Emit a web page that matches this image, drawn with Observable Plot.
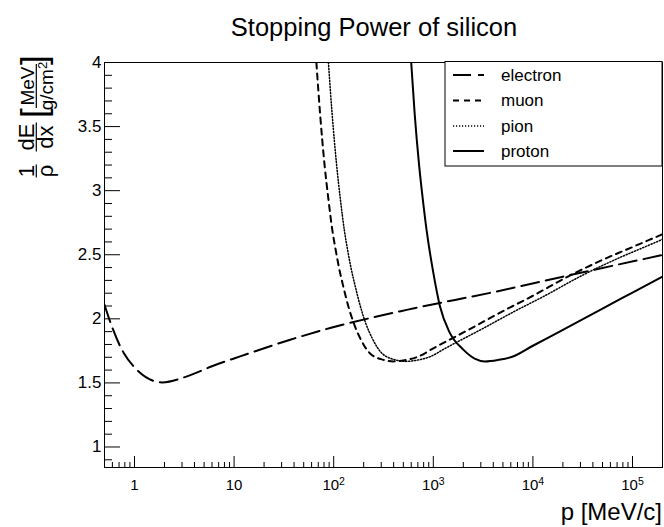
<!DOCTYPE html>
<html><head><meta charset="utf-8">
<script src="https://cdn.jsdelivr.net/npm/d3@7"></script>
<script src="https://cdn.jsdelivr.net/npm/@observablehq/plot@0.6"></script>
<style>
body{margin:0;background:#fff;}
svg{font-family:"Liberation Sans",Arial,sans-serif;}
</style>
</head><body><div id="chart"></div>
<script>
// ---- data (p in MeV/c, stopping power in MeV cm^2/g)
const electronP = [0.5, 0.6, 0.78, 0.98, 1.3, 1.9, 3.37, 6, 11.5, 36.6, 92, 540, 4300, 20000, 200000];
const electronV = [2.11, 1.93, 1.733, 1.629, 1.545, 1.504, 1.551, 1.63, 1.707, 1.837, 1.928, 2.07, 2.213, 2.329, 2.498];

const muonP = [67, 73, 81, 88, 97, 104, 113, 125, 140, 160, 184, 232, 315, 397, 500, 710, 1000, 2250, 5000, 10000, 22500, 50000, 100000, 200000];
const muonV = [4.0, 3.6, 3.2, 2.95, 2.69, 2.55, 2.40, 2.25, 2.10, 1.96, 1.85, 1.73, 1.68, 1.668, 1.675, 1.706, 1.77, 1.914, 2.06, 2.18, 2.33, 2.46, 2.56, 2.66];

const pionP = [88.5, 96.4, 107, 116, 128, 137, 149, 165, 185, 211, 243, 306, 416, 524, 660, 938, 1321, 2970, 6600, 13200, 29700, 66000, 132000, 200000];
const pionV = [4.0, 3.6, 3.2, 2.95, 2.69, 2.55, 2.40, 2.25, 2.10, 1.96, 1.85, 1.73, 1.68, 1.668, 1.675, 1.706, 1.77, 1.914, 2.06, 2.18, 2.33, 2.46, 2.56, 2.62];

const protonP = [600, 650, 720, 780, 857, 1000, 1164, 1466, 2000, 2600, 3300, 4500, 6300, 10000, 20000, 50000, 100000, 200000];
const protonV = [4.0, 3.6, 3.2, 2.95, 2.69, 2.36, 2.10, 1.89, 1.76, 1.69, 1.668, 1.68, 1.706, 1.79, 1.914, 2.08, 2.205, 2.33];

const particles = ["electron", "muon", "pion", "proton"];
const xMajorTicks = [1, 10, 100, 1000, 10000, 100000];
const xTickLabels = ["1", "10", "10^2", "10^3", "10^4", "10^5"];
const xMinorTicks = [0.6,0.7,0.8,0.9, 2,3,4,5,6,7,8,9, 20,30,40,50,60,70,80,90,
  200,300,400,500,600,700,800,900, 2000,3000,4000,5000,6000,7000,8000,9000,
  20000,30000,40000,50000,60000,70000,80000,90000];
const yMajorTicks = [1, 1.5, 2, 2.5, 3, 3.5, 4];
const yMinorTicks = [0.9, 1.1, 1.2, 1.3, 1.4, 1.6, 1.7, 1.8, 1.9, 2.1, 2.2, 2.3, 2.4, 2.6, 2.7, 2.8, 2.9,
  3.1, 3.2, 3.3, 3.4, 3.6, 3.7, 3.8, 3.9];

const title = "Stopping Power of silicon";
const xTitle = "p [MeV/c]";

// ---- build tidy table
const series = {electron: [electronP, electronV], muon: [muonP, muonV], pion: [pionP, pionV], proton: [protonP, protonV]};
const rows = particles.flatMap(name => series[name][0].map((p, i) => ({name, p, v: series[name][1][i]})));
const styles = {
  electron: {dash: "18,7", width: 2},
  muon: {dash: "6,5", width: 2},
  pion: {dash: "1.2,1.8", width: 1.5},
  proton: {dash: null, width: 2}
};

const W = 664, H = 527;
const plot = Plot.plot({
  width: W, height: H,
  marginLeft: 104, marginRight: 2, marginTop: 62, marginBottom: 60,
  style: {fontFamily: '"Liberation Sans",Arial,sans-serif', background: "#fff", color: "#000"},
  x: {type: "log", domain: [0.5, 200000]},
  y: {domain: [0.84, 4]},
  marks: [
    ...particles.map(name => Plot.line(rows.filter(r => r.name === name), {
      x: "p", y: "v", stroke: "#000", strokeWidth: styles[name].width,
      strokeDasharray: styles[name].dash, curve: "monotone-x", clip: true
    })),
    Plot.axisX({ticks: xMinorTicks, tickSize: -5, fill: "none", label: null}),
    Plot.axisX({ticks: xMajorTicks, tickSize: -11, fill: "none", label: null}),
    Plot.axisX({ticks: xMajorTicks, tickSize: 0, tickPadding: 12, fontSize: 15,
      tickFormat: (d) => xTickLabels[xMajorTicks.indexOf(d)], label: null}),
    Plot.axisY({ticks: yMinorTicks, tickSize: -8, fill: "none", label: null}),
    Plot.axisY({ticks: yMajorTicks, tickSize: -16, fill: "none", label: null}),
    Plot.axisY({ticks: yMajorTicks, tickSize: 0, tickPadding: 3, fontSize: 17,
      tickFormat: d => String(d), label: null}),
    Plot.frame({stroke: "#000", strokeWidth: 1})
  ]
});
document.getElementById("chart").appendChild(plot);

const svg = d3.select(plot);
// superscripts in x tick labels
svg.selectAll('g[aria-label="x-axis tick label"] text').each(function() {
  const t = d3.select(this);
  const s = t.text();
  if (s.includes("^")) {
    const [b, e] = s.split("^");
    t.text(null);
    t.append("tspan").text(b);
    t.append("tspan").attr("dy", "-0.45em").attr("font-size", "0.7em").text(e);
  }
});

// title
svg.append("text").attr("x", 374).attr("y", 36).attr("text-anchor", "middle")
  .attr("font-size", 25.5).attr("fill", "#000").text(title);
// x axis title
svg.append("text").attr("x", 662).attr("y", 520).attr("text-anchor", "end")
  .attr("font-size", 24).attr("fill", "#000").text(xTitle);

// y axis title (rotated, reads bottom-to-top)
const gy = svg.append("g").attr("transform", "translate(0,178) rotate(-90)").attr("fill", "#000");
function frac(cx, num, den, w, fs) {
  gy.append("text").attr("x", cx).attr("y", 34).attr("text-anchor", "middle").attr("font-size", fs).text(num);
  gy.append("line").attr("x1", cx - w/2).attr("x2", cx + w/2).attr("y1", 36.3).attr("y2", 36.3).attr("stroke", "#000").attr("stroke-width", 1.2);
  return gy.append("text").attr("x", cx).attr("y", 52.5).attr("text-anchor", "middle").attr("font-size", fs).text(den);
}
frac(7, "1", "ρ", 13, 22);
frac(41, "dE", "dx", 29, 22);
gy.append("text").attr("x", 60).attr("y", 46).attr("text-anchor", "start").attr("font-size", 35).text("[");
const den = frac(92, "MeV", "g/cm", 44, 19);
den.append("tspan").attr("dy", "-0.45em").attr("font-size", "0.7em").text("2");
gy.append("text").attr("x", 113).attr("y", 46).attr("text-anchor", "start").attr("font-size", 35).text("]");

// legend
const lg = svg.append("g");
lg.append("rect").attr("x", 445).attr("y", 61.5).attr("width", 217).attr("height", 104.5)
  .attr("fill", "#fff").attr("stroke", "#000").attr("stroke-width", 1);
const rowY = [75, 100.5, 126, 151];
particles.forEach((name, i) => {
  lg.append("line").attr("x1", 453).attr("x2", 484).attr("y1", rowY[i]).attr("y2", rowY[i])
    .attr("stroke", "#000").attr("stroke-width", styles[name].width)
    .attr("stroke-dasharray", styles[name].dash);
  lg.append("text").attr("x", 501).attr("y", rowY[i]).attr("dy", "0.35em")
    .attr("text-anchor", "start").attr("font-size", 17).attr("fill", "#000").text(name);
});
</script>
</body></html>
